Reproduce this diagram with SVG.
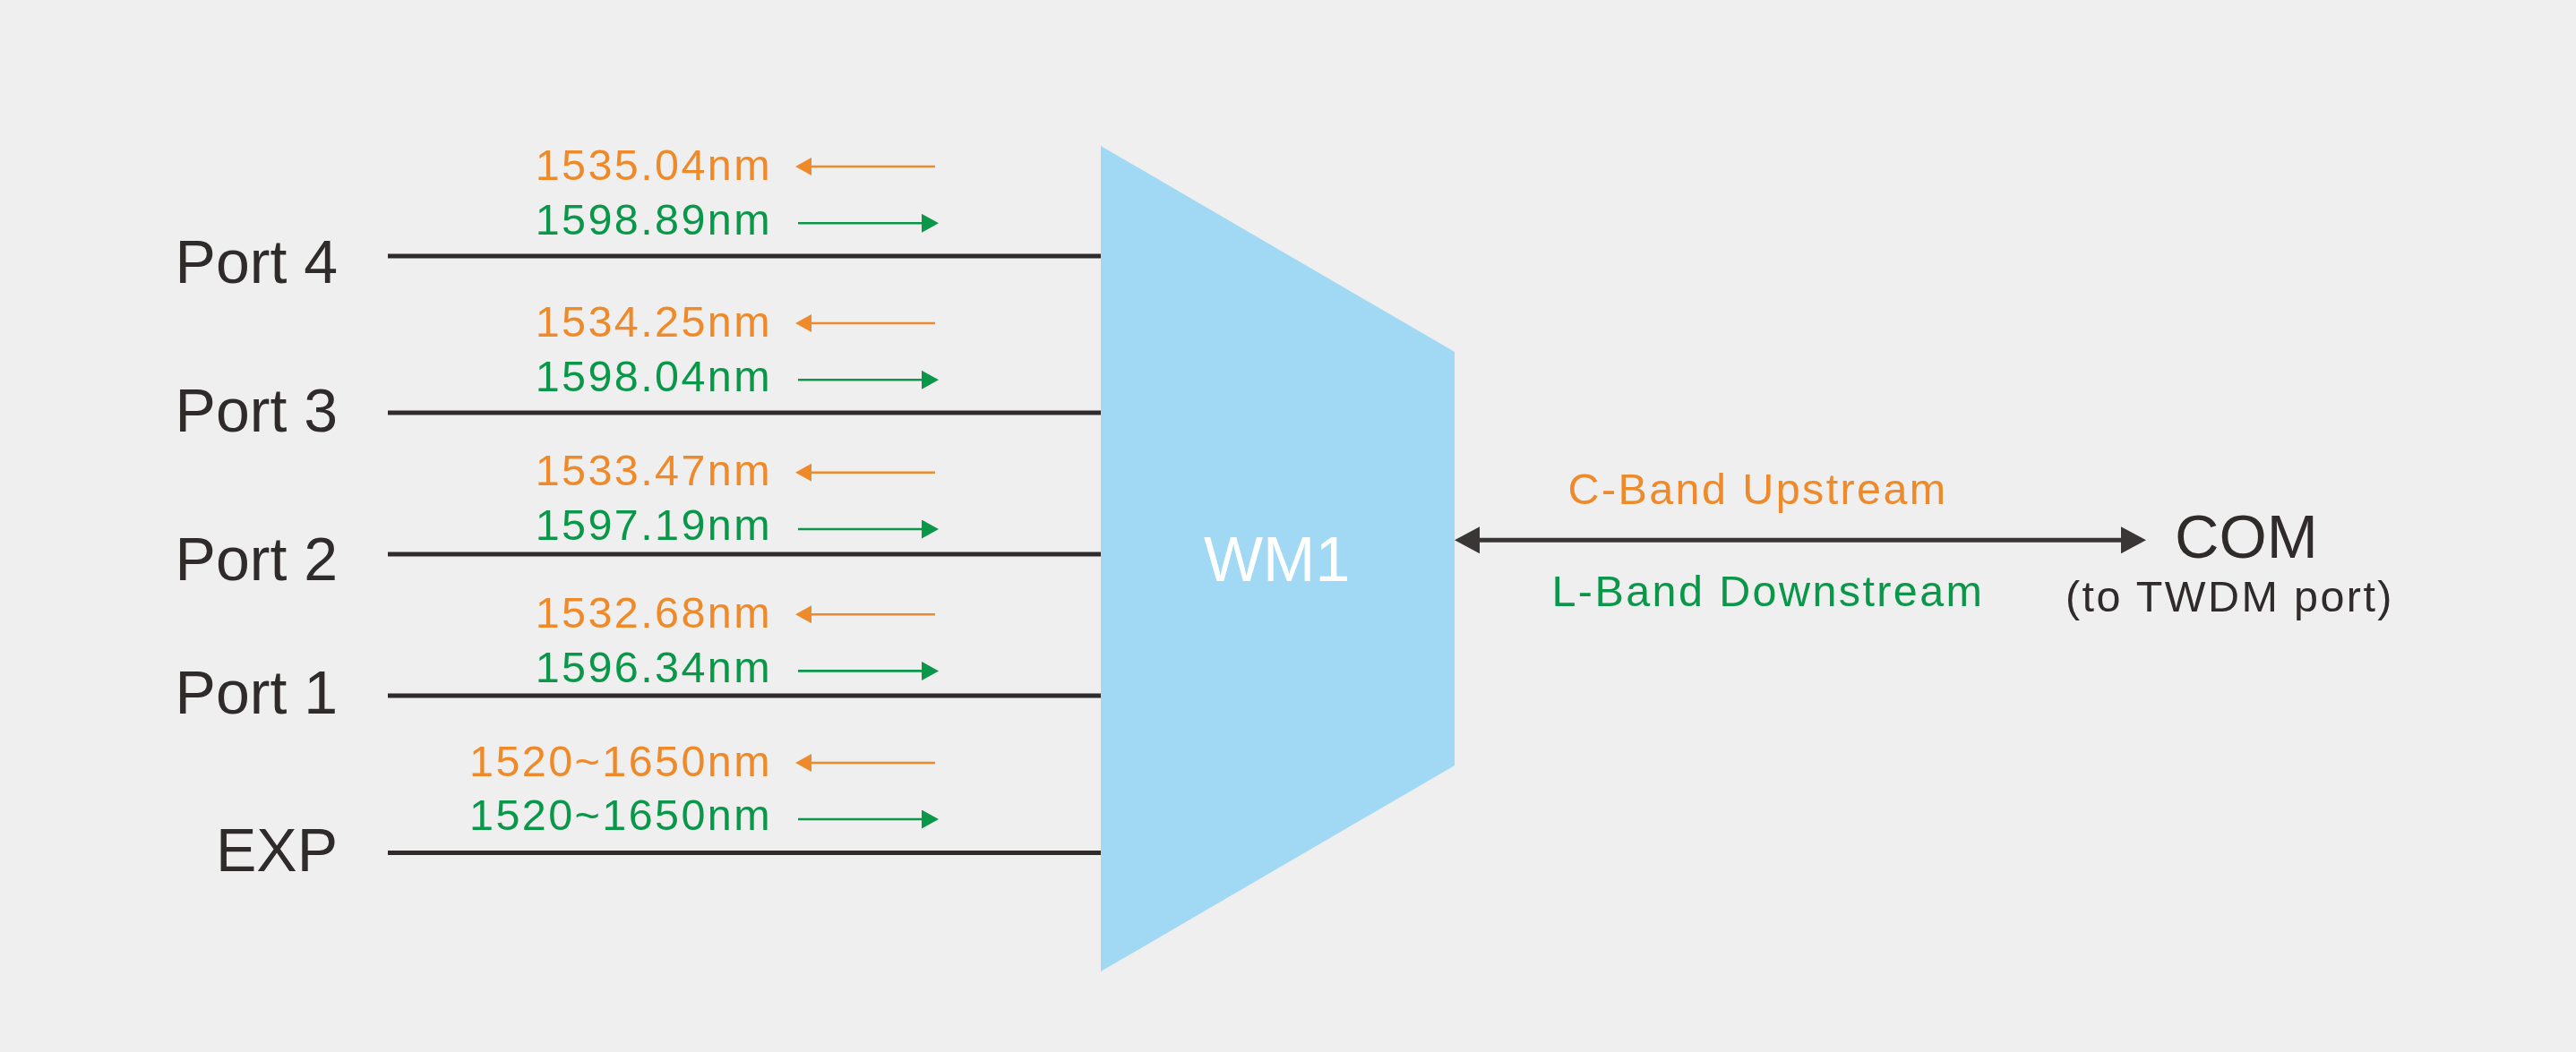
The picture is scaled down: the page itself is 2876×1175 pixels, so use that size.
<svg xmlns="http://www.w3.org/2000/svg" width="2876" height="1175" viewBox="0 0 2876 1175">
<style>
text{font-family:"Liberation Sans",Arial,sans-serif}
.port{font-size:68px;fill:#2f2b2b;text-anchor:end}
.wl{font-size:48.5px;letter-spacing:2.4px;text-anchor:end}
.or{fill:#ef8a2a}
.gr{fill:#0a974a}
.lbl{font-size:48.5px;letter-spacing:2.4px}
.fiber{stroke:#2f2b2b;stroke-width:5;fill:none}
.ao{stroke:#ef8a2a;stroke-width:2.6;fill:none;marker-end:url(#hO)}
.ag{stroke:#0a974a;stroke-width:2.6;fill:none;marker-end:url(#hG)}
.big{font-size:68.5px;fill:#2f2b2b}
</style>
<defs>
<marker id="hO" viewBox="0 0 18 20" refX="10" refY="10" markerWidth="18" markerHeight="20" markerUnits="userSpaceOnUse" orient="auto"><path d="M0,0L18,10L0,20z" fill="#ef8a2a"/></marker>
<marker id="hG" viewBox="0 0 19 21" refX="11" refY="10.5" markerWidth="19" markerHeight="21" markerUnits="userSpaceOnUse" orient="auto"><path d="M0,0L19,10.5L0,21z" fill="#0a974a"/></marker>
<marker id="hD" viewBox="0 0 28 30" refX="12" refY="15" markerWidth="28" markerHeight="30" markerUnits="userSpaceOnUse" orient="auto-start-reverse"><path d="M0,0L28,15L0,30z" fill="#3a3636"/></marker>
</defs>
<rect x="0" y="0" width="2876" height="1175" fill="#efefef"/>

<g id="wm1">
<polygon points="1229,163 1624,393 1624,855 1229,1085" fill="#a1d9f5"/>
<text x="1344" y="649" style="font-size:70px;fill:#ffffff">WM1</text>
</g>

<g id="connectors">
<line class="fiber" x1="433" y1="286" x2="1229" y2="286"/>
<line class="fiber" x1="433" y1="461" x2="1229" y2="461"/>
<line class="fiber" x1="433" y1="619" x2="1229" y2="619"/>
<line class="fiber" x1="433" y1="777" x2="1229" y2="777"/>
<line class="fiber" x1="433" y1="952.5" x2="1229" y2="952.5"/>
<line class="ao" x1="1044" y1="186" x2="896" y2="186"/>
<line class="ag" x1="891" y1="249.3" x2="1040" y2="249.3"/>
<line class="ao" x1="1044" y1="361" x2="896" y2="361"/>
<line class="ag" x1="891" y1="424.3" x2="1040" y2="424.3"/>
<line class="ao" x1="1044" y1="527.7" x2="896" y2="527.7"/>
<line class="ag" x1="891" y1="591" x2="1040" y2="591"/>
<line class="ao" x1="1044" y1="686.2" x2="896" y2="686.2"/>
<line class="ag" x1="891" y1="749.4" x2="1040" y2="749.4"/>
<line class="ao" x1="1044" y1="852" x2="896" y2="852"/>
<line class="ag" x1="891" y1="915" x2="1040" y2="915"/>
<line x1="1640" y1="603.3" x2="2380" y2="603.3" stroke="#3a3636" stroke-width="5" marker-start="url(#hD)" marker-end="url(#hD)"/>
</g>

<g id="port4">
<text class="port" x="377" y="316">Port 4</text>
<text class="wl or" x="862" y="200.7">1535.04nm</text>
<text class="wl gr" x="862" y="261.7">1598.89nm</text>
</g>
<g id="port3">
<text class="port" x="377" y="482.3">Port 3</text>
<text class="wl or" x="862" y="375.7">1534.25nm</text>
<text class="wl gr" x="862" y="436.7">1598.04nm</text>
</g>
<g id="port2">
<text class="port" x="377" y="648.3">Port 2</text>
<text class="wl or" x="862" y="542.3">1533.47nm</text>
<text class="wl gr" x="862" y="603.3">1597.19nm</text>
</g>
<g id="port1">
<text class="port" x="377" y="797">Port 1</text>
<text class="wl or" x="862" y="700.7">1532.68nm</text>
<text class="wl gr" x="862" y="761.7">1596.34nm</text>
</g>
<g id="exp">
<text class="port" x="377" y="972.7">EXP</text>
<text class="wl or" x="862" y="866.5">1520~1650nm</text>
<text class="wl gr" x="862" y="927.3">1520~1650nm</text>
</g>

<g id="bands">
<text class="lbl or" x="1750.5" y="563.3">C-Band Upstream</text>
<text class="lbl gr" x="1732.5" y="677.3">L-Band Downstream</text>
</g>

<g id="com">
<text class="big" x="2428" y="622.7">COM</text>
<text class="lbl" x="2306" y="682.7" style="fill:#2f2b2b">(to TWDM port)</text>
</g>
</svg>
